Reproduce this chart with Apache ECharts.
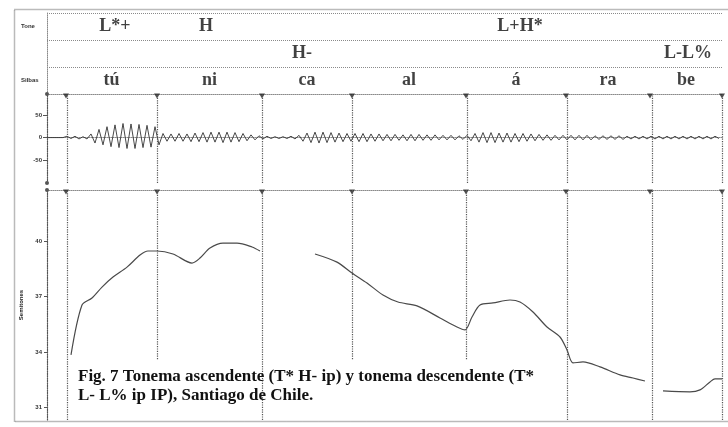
<!DOCTYPE html>
<html>
<head>
<meta charset="utf-8">
<script src="https://cdn.jsdelivr.net/npm/echarts@6/dist/echarts.min.js"></script>
<style>
html, body { margin: 0; padding: 0; background: #fff; }
#main { width: 728px; height: 427px; }
</style>
</head>
<body>
<div id="main"></div>
<script>
// time axis, seconds
var timeMax = 1.352;
// segment boundaries (s) and which ones stop above the caption
var boundaries = [0.038, 0.22, 0.43, 0.61, 0.838, 1.038, 1.206, 1.35];
var boundaryCut = [false, true, false, true, true, false, false, false];
// tiers
var tierNames = ['Silbas', '', 'Tone'];
var syllables = ['tú', 'ni', 'ca', 'al', 'á', 'ra', 'be'];
var toneLabels = ['L*+', 'H', 'L+H*'];
var toneTimes = [0.136, 0.318, 0.946];
var phraseLabels = ['H-', 'L-L%'];
var phraseTimes = [0.51, 1.282];
// waveform peaks, one every waveStep seconds from t = 0
var waveStep = 0.008;
var waveSamples = [
    0, 0, 0, 0, 0,
    3, -2, 3, -3, 2, -3,
    8, -12, 18, -16, 24, -20, 28, -22, 31, -24, 30, -24, 29, -22, 27, -21, 24, -16,
    9, -8, 8, -8, 9, -8, 8, -9, 10, -9, 11, -10, 12, -10, 12, -11, 12, -10, 11, -9, 9, -7, 6, -5, 4,
    -3, 3, -2, 2, -2, 2, -2, 3, -3, 5,
    -8, 10, -11, 12, -12, 12, -11, 11, -10, 10, -9, 9, -8,
    9, -9, 9, -9, 8, -8, 8, -7, 7, -7, 7, -6, 6, -7, 7, -7, 7, -6, 6, -6, 6, -5, 5, -5, 5, -5, 4, -4,
    5, -7, 9, -10, 11, -11, 11, -11, 10, -10, 10, -10, 9, -9, 9, -8, 8, -7, 7,
    -6, 6, -6, 5, -5, 5, -5, 5, -5, 5, -5, 5, -5, 4, -4, 4, -4, 4, -4, 4, -4, 3, -3, 3, -3, 3, -3,
    3, -3, 3, -3, 3, -3, 3, -3, 3, -3, 3, -3, 3, -3, 3, -3, 3, -2
];
var waveTicks = [-50, 0, 50];
// pitch contour in semitones, [time, st]
var contour1 = [[0.048, 33.84], [0.07, 36.54], [0.09, 36.92], [0.11, 37.51], [0.132, 38.05], [0.16, 38.59],
    [0.186, 39.24], [0.202, 39.46], [0.22, 39.46], [0.252, 39.30], [0.29, 38.81], [0.306, 39.08],
    [0.326, 39.62], [0.352, 39.89], [0.38, 39.89], [0.41, 39.68], [0.426, 39.46]];
var contour2 = [[0.536, 39.30], [0.58, 38.86], [0.61, 38.27], [0.64, 37.73], [0.672, 37.08], [0.702, 36.70],
    [0.74, 36.49], [0.786, 35.84], [0.82, 35.35], [0.836, 35.19], [0.85, 35.89], [0.866, 36.54],
    [0.892, 36.65], [0.926, 36.81], [0.946, 36.70], [0.972, 36.16], [1.0, 35.35], [1.026, 34.81],
    [1.04, 34.11], [1.052, 33.41], [1.072, 33.46], [1.106, 33.19], [1.146, 32.76], [1.172, 32.59],
    [1.196, 32.43]];
var contour3 = [[1.232, 31.89], [1.286, 31.84], [1.306, 31.95], [1.326, 32.38], [1.336, 32.54], [1.35, 32.54]];
var pitchTicks = [31, 34, 37, 40];
var pitchMin = 30.32, pitchMax = 42.76, pitchCut = 33.57;
var waveMin = -100, waveMax = 96;
var caption = ['Fig. 7 Tonema ascendente (T* H- ip) y tonema descendente (T*', 'L- L% ip IP), Santiago de Chile.'];

var serif = '"Liberation Serif", "DejaVu Serif", serif';
var tiny = { fontSize: 6, color: '#333', fontWeight: 'bold', fontFamily: '"Liberation Sans", sans-serif' };
var dotted = { color: '#8a8a8a', type: 'dotted', width: 1 };
var bLine = { color: '#555', type: 'dotted', width: 1.2 };

var chartDom = document.getElementById('main');
var myChart = echarts.init(chartDom);

// tier label points
var tierData = [];
toneLabels.forEach(function (s, i) { tierData.push({ value: [toneTimes[i], 2.5], name: s }); });
phraseLabels.forEach(function (s, i) { tierData.push({ value: [phraseTimes[i], 1.5], name: s }); });
syllables.forEach(function (s, i) {
    tierData.push({ value: [(boundaries[i] + boundaries[i + 1]) / 2, 0.5], name: s });
});

var waveData = waveSamples.map(function (v, i) { return [i * waveStep, v]; });

var pitchMarks = boundaries.map(function (b, i) {
    if (boundaryCut[i]) return [{ coord: [b, pitchMax] }, { coord: [b, pitchCut] }];
    return { xAxis: b };
});

var contourSeries = [contour1, contour2, contour3].map(function (c, i) {
    return {
        type: 'line', xAxisIndex: 2, yAxisIndex: 2, data: c,
        showSymbol: false, smooth: 0.3,
        lineStyle: { color: '#4a4a4a', width: 1.2 },
        markLine: i === 0 ? { silent: true, symbol: 'none', label: { show: false }, lineStyle: bLine, data: pitchMarks } : undefined
    };
});

function xAx(i) {
    return {
        type: 'value', gridIndex: i, min: 0, max: timeMax,
        position: i === 2 ? 'top' : 'bottom',
        axisLine: { show: true, lineStyle: dotted },
        axisTick: { show: false }, axisLabel: { show: false }, splitLine: { show: false }
    };
}

var option = {
    animation: false,
    backgroundColor: '#fff',
    title: {
        text: caption.join('\n'), left: 73, top: 362,
        textStyle: { fontFamily: serif, fontWeight: 'bold', fontSize: 17, lineHeight: 19, color: '#111' }
    },
    graphic: [{
        type: 'rect', shape: { x: 14.5, y: 9.5, width: 720, height: 412 },
        style: { fill: 'none', stroke: '#777', lineWidth: 1.5, lineDash: [1, 1] }
    }],
    grid: [
        { left: 47, right: 5, top: 13, height: 81 },
        { left: 47, right: 5, top: 94, height: 89 },
        { left: 47, right: 5, top: 190, bottom: 7 }
    ],
    xAxis: [xAx(0), xAx(1), xAx(2)],
    yAxis: [
        {
            type: 'value', gridIndex: 0, min: 0, max: 3, interval: 1,
            axisLine: { show: true, lineStyle: dotted }, axisTick: { show: false },
            splitLine: { show: true, lineStyle: dotted },
            axisLabel: {
                customValues: [0.5, 2.5], align: 'left', margin: 26,
                formatter: function (v) { return tierNames[Math.floor(v)]; },
                fontSize: tiny.fontSize, color: tiny.color, fontWeight: tiny.fontWeight, fontFamily: tiny.fontFamily
            }
        },
        {
            type: 'value', gridIndex: 1, min: waveMin, max: waveMax,
            axisLine: { show: true, lineStyle: { color: '#555', type: 'dotted', width: 1.2 }, symbol: ['circle', 'circle'], symbolSize: [4, 4] },
            axisTick: { show: true, customValues: waveTicks, length: 4, lineStyle: { color: '#555' } },
            splitLine: { show: false },
            axisLabel: { customValues: waveTicks, margin: 5, fontSize: 6, color: '#333', fontWeight: 'bold' }
        },
        {
            type: 'value', gridIndex: 2, min: pitchMin, max: pitchMax,
            name: 'Semitones', nameLocation: 'middle', nameGap: 21, nameRotate: 90,
            nameTextStyle: { fontSize: 6, color: '#222', fontWeight: 'bold' },
            axisLine: { show: true, lineStyle: { color: '#555', type: 'dotted', width: 1.2 }, symbol: ['none', 'circle'], symbolSize: [4, 4] },
            axisTick: { show: true, customValues: pitchTicks, length: 3, lineStyle: { color: '#555' } },
            splitLine: { show: false },
            axisLabel: { customValues: pitchTicks, margin: 5, fontSize: 6, color: '#333', fontWeight: 'bold' }
        }
    ],
    series: [
        {
            type: 'scatter', xAxisIndex: 0, yAxisIndex: 0, data: tierData,
            symbolSize: 1, itemStyle: { color: 'rgba(0,0,0,0)' },
            label: { show: true, position: 'inside', formatter: '{b}', fontFamily: serif, fontWeight: 'bold', fontSize: 18, color: '#111' }
        },
        {
            type: 'line', xAxisIndex: 1, yAxisIndex: 1, data: waveData,
            showSymbol: false, lineStyle: { color: '#333', width: 0.9 },
            markLine: {
                silent: true, symbol: 'none', label: { show: false }, lineStyle: bLine,
                data: boundaries.map(function (b) { return { xAxis: b }; })
            }
        },
        {
            type: 'scatter', xAxisIndex: 1, yAxisIndex: 1,
            data: boundaries.map(function (b) { return [b, waveMax]; }),
            symbol: 'triangle', symbolRotate: 180, symbolSize: [6, 5], symbolOffset: [0, 2],
            itemStyle: { color: '#222' }
        },
        {
            type: 'scatter', xAxisIndex: 2, yAxisIndex: 2,
            data: boundaries.map(function (b) { return [b, pitchMax]; }),
            symbol: 'triangle', symbolRotate: 180, symbolSize: [6, 5], symbolOffset: [0, 2],
            itemStyle: { color: '#222' }
        }
    ].concat(contourSeries)
};

option && myChart.setOption(option);
</script>
</body>
</html>
